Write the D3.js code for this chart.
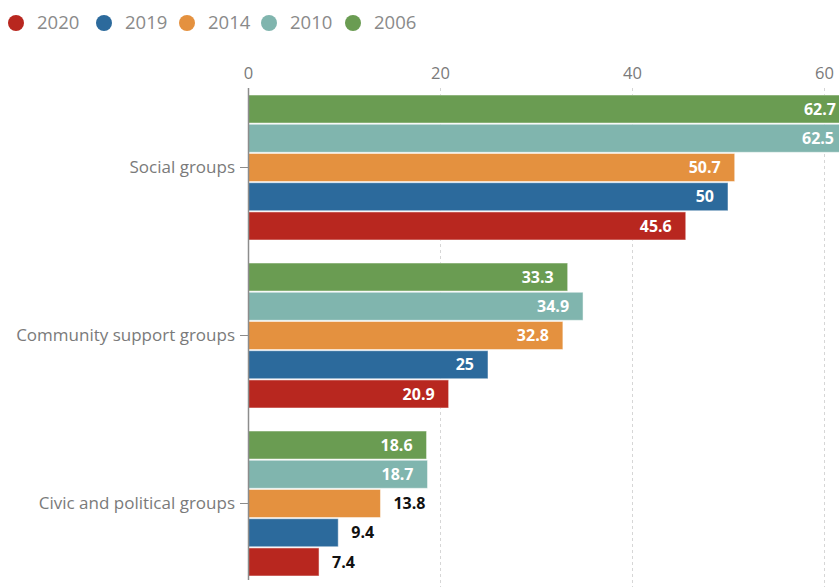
<!DOCTYPE html>
<html lang="en">
    <head>
        <meta charset="utf-8">
        <title>Group participation by year</title>
        <script src="https://d3js.org/d3.v7.min.js"></script>
        <style type="text/css">
        body {
            margin: 0;
            background: #fff;
        }
        svg {
            display: block;
            overflow: hidden;
        }
        .legend-label {
            font-size: 18.5px;
            font-family: "Open Sans", sans-serif;
            fill: #8a8a8a;
        }
        .axis text {
            font-size: 16.5px;
            font-family: "Open Sans", sans-serif;
            fill: #7a7a7a;
        }
        .axis.left text {
            font-size: 17px;
        }
        .value {
            font-size: 16px;
            font-weight: bold;
            font-family: "Open Sans", sans-serif;
        }
        </style>
    </head>
    <body>
    <div id="vis"></div>

    <script type="text/javascript">

        const width = 839;
        const height = 587;

        // data
        const categories = ["Social groups", "Community support groups", "Civic and political groups"];
        const years = ["2020", "2019", "2014", "2010", "2006"];
        const v2020 = [45.6, 20.9, 7.4];
        const v2019 = [50, 25, 9.4];
        const v2014 = [50.7, 32.8, 13.8];
        const v2010 = [62.5, 34.9, 18.7];
        const v2006 = [62.7, 33.3, 18.6];
        const xTicks = [0, 20, 40, 60];

        const seriesValues = {"2020": v2020, "2019": v2019, "2014": v2014, "2010": v2010, "2006": v2006};
        const colors = {"2020": "#b8271f", "2019": "#2c6a9c", "2014": "#e4913f", "2010": "#80b5ae", "2006": "#6a9c52"};

        // bars inside a group go from 2006 at top down to 2020
        const barOrder = years.slice().reverse();

        const rows = [];
        categories.forEach((c, i) => {
            barOrder.forEach(y => rows.push({category: c, year: y, value: seriesValues[y][i]}));
        });

        const xScale = d3.scaleLinear()
                         .domain([0, 60])
                         .range([248, 824]);

        const y0 = d3.scaleBand()
                     .domain(categories)
                     .range([83.5, 587.5])
                     .paddingInner(0.137)
                     .paddingOuter(0.0685);

        const y1 = d3.scaleBand()
                     .domain(barOrder)
                     .range([0, y0.bandwidth()])
                     .paddingInner(0.04);

        const svg = d3.select("#vis")
                      .append("svg")
                      .attr("width", width)
                      .attr("height", height);

        // legend
        const legend = svg.append("g")
                          .selectAll("g")
                          .data(years)
                          .enter()
                          .append("g");

        const legendX = [16, 104, 187, 269, 353];

        legend.append("circle")
              .attr("cx", (d, i) => legendX[i])
              .attr("cy", 23)
              .attr("r", 8)
              .attr("fill", d => colors[d]);

        legend.append("text")
              .attr("class", "legend-label")
              .attr("x", (d, i) => legendX[i] + 21)
              .attr("y", 23)
              .attr("dy", "0.35em")
              .text(d => d);

        // top axis with dashed grid
        const topAxis = d3.axisTop(xScale)
                          .tickValues(xTicks)
                          .tickSizeInner(-(height - 88))
                          .tickSizeOuter(0)
                          .tickPadding(9);

        const gx = svg.append("g")
                      .attr("class", "axis")
                      .attr("transform", "translate(0,88)")
                      .call(topAxis);

        gx.select(".domain").remove();
        gx.selectAll(".tick line")
          .attr("stroke", "#d6d6d6")
          .attr("stroke-dasharray", "3,3")
          .attr("opacity", d => d === 0 ? 0 : 1);

        // bars
        svg.selectAll(".bars")
           .data(rows)
           .enter()
           .append("rect")
           .attr("class", "bars")
           .attr("x", xScale(0))
           .attr("y", d => y0(d.category) + y1(d.year))
           .attr("width", d => xScale(d.value) - xScale(0))
           .attr("height", y1.bandwidth())
           .attr("fill", d => colors[d.year])
           .attr("stroke", "#ffffff")
           .attr("stroke-opacity", 0.5)
           .attr("stroke-width", 1);

        // value labels
        svg.selectAll(".value")
           .data(rows)
           .enter()
           .append("text")
           .attr("class", "value")
           .attr("x", d => d.value > 15 ? xScale(d.value) - 14 : xScale(d.value) + 13)
           .attr("y", d => y0(d.category) + y1(d.year) + y1.bandwidth() / 2)
           .attr("dy", "0.36em")
           .attr("text-anchor", d => d.value > 15 ? "end" : "start")
           .attr("fill", d => d.value > 15 ? "#ffffff" : "#111111")
           .text(d => d.value);

        // left axis
        const leftAxis = d3.axisLeft(y0)
                           .tickSizeInner(8)
                           .tickSizeOuter(0)
                           .tickPadding(5);

        const gy = svg.append("g")
                      .attr("class", "axis left")
                      .attr("transform", "translate(" + xScale(0) + ",0)")
                      .call(leftAxis);

        gy.select(".domain")
          .attr("d", "M0.5,88V580")
          .attr("stroke", "#8c8c8c")
          .attr("stroke-width", 1.5);
        gy.selectAll(".tick line").attr("stroke", "#8c8c8c");

    </script>
    </body>
</html>
